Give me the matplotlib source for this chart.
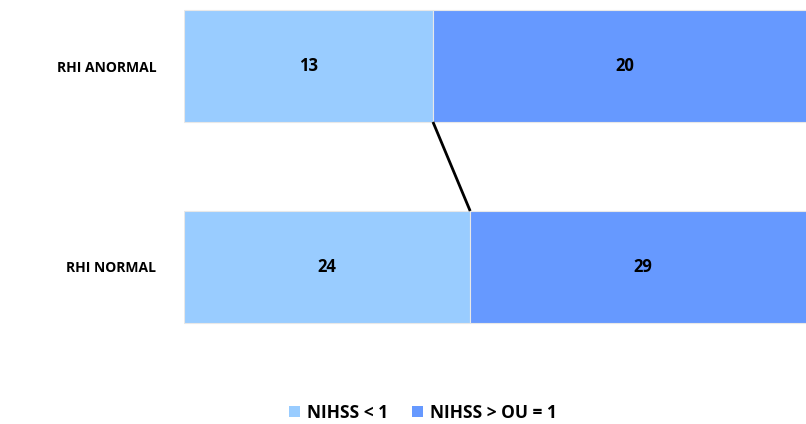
import matplotlib.pyplot as plt
from matplotlib.patches import Patch

categories = ["RHI NORMAL", "RHI ANORMAL"]
series_names = ["NIHSS < 1", "NIHSS > OU = 1"]
low_counts = [24, 13]
high_counts = [29, 20]
colors = ["#99CCFF", "#6699FF"]

plt.rcParams['font.family'] = ['Open Sans', 'DejaVu Sans']

fig = plt.figure(figsize=(8.06, 4.24), dpi=100)
# plot area runs a little past the right edge of the image, as in the original
ax = fig.add_axes([184 / 806, 1 - 340 / 424, 632 / 806, 340 / 424])

ypos = list(range(len(categories)))
totals = [a + b for a, b in zip(low_counts, high_counts)]
low_share = [a / t for a, t in zip(low_counts, totals)]
high_share = [b / t for b, t in zip(high_counts, totals)]
bar_h = 0.557

ax.barh(ypos, low_share, height=bar_h, color=colors[0], edgecolor="#e8e8e8", linewidth=0.8)
ax.barh(ypos, high_share, left=low_share, height=bar_h, color=colors[1], edgecolor="#e8e8e8", linewidth=0.8)

# value labels in the middle of each segment
for i in ypos:
    ax.text(low_share[i] / 2, i, str(low_counts[i]), ha="center", va="center",
            fontsize=12, fontweight="bold", color="black")
    ax.text(low_share[i] + high_share[i] / 2, i, str(high_counts[i]), ha="center", va="center",
            fontsize=12, fontweight="bold", color="black")

# series line between the segment boundaries
ax.plot([low_share[1], low_share[0]], [1 - bar_h / 2, 0 + bar_h / 2], color="black", lw=2,
        solid_capstyle="butt")

ax.set_xlim(0, 1)
ax.set_ylim(-73 / 201, 1 + 66 / 201)
ax.set_xticks([])
ax.set_yticks(ypos)
ax.set_yticklabels(categories, fontsize=10, fontweight="bold")
ax.tick_params(axis="y", length=0, pad=20)
for s in ax.spines.values():
    s.set_visible(False)

handles = [Patch(facecolor=c, edgecolor="none", label=n) for c, n in zip(colors, series_names)]
fig.legend(handles=handles, loc="center", bbox_to_anchor=(423 / 806, 1 - 413 / 424), ncol=2,
           frameon=False, prop={"weight": "bold", "size": 12.5}, handlelength=0.6, handleheight=0.6,
           handletextpad=0.4, columnspacing=1.4)

fig.savefig("out.png", dpi=100)
